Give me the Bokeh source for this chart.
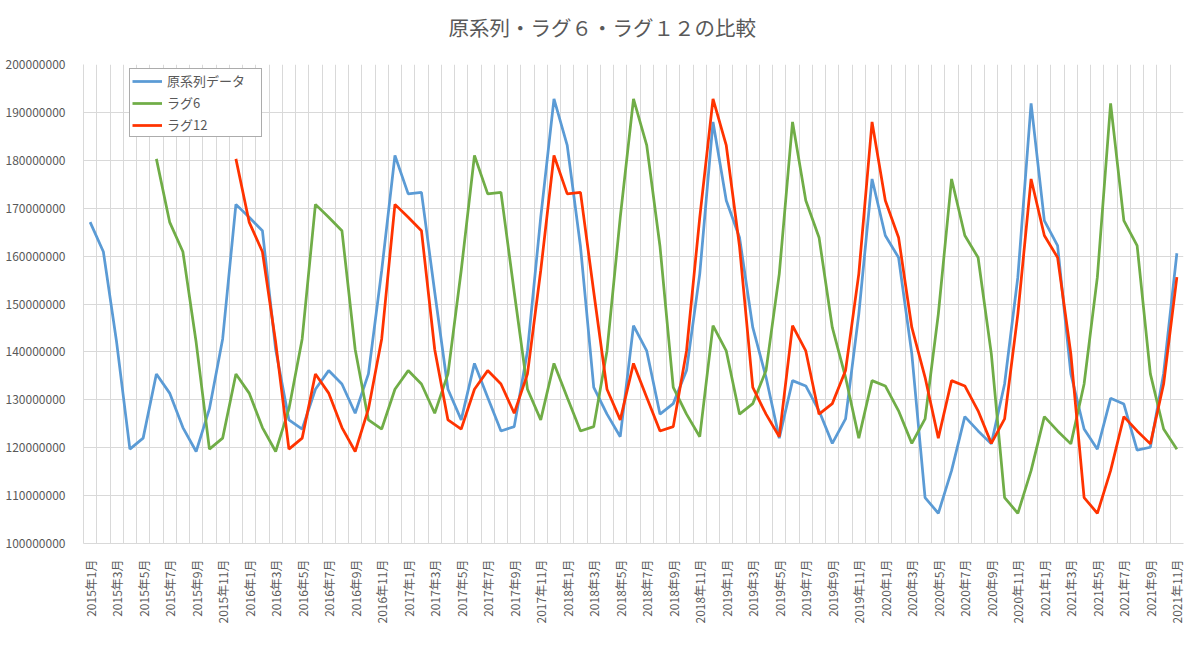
import numpy as np
from math import pi
from bokeh.plotting import figure
from bokeh.models import (ColumnDataSource, FixedTicker, BasicTickFormatter,
                          Legend, LegendItem, Range1d, Title)
from bokeh.embed import file_html
from bokeh.resources import INLINE

# ---------------- data ----------------
months = [f"{y}年{m}月" for y in range(2015, 2022) for m in range(1, 13)][:83]

# value of 2014年12月 (only visible in the lagged series)
prior_value = 180.3e6

original = [
    167.1e6, 160.9e6, 142.0e6, 119.7e6, 122.0e6, 135.4e6, 131.4e6, 124.2e6, 119.2e6, 128.1e6, 142.7e6, 170.8e6,
    168.1e6, 165.3e6, 140.5e6, 125.8e6, 123.9e6, 132.2e6, 136.1e6, 133.3e6, 127.2e6, 135.4e6, 157.0e6, 181.0e6,
    173.0e6, 173.3e6, 152.5e6, 132.2e6, 125.8e6, 137.6e6, 130.5e6, 123.5e6, 124.4e6, 140.2e6, 168.1e6, 192.8e6,
    183.1e6, 162.0e6, 132.6e6, 127.0e6, 122.3e6, 145.5e6, 140.2e6, 127.0e6, 129.2e6, 136.1e6, 156.3e6, 188.0e6,
    171.6e6, 163.9e6, 145.1e6, 134.7e6, 122.0e6, 134.0e6, 132.9e6, 127.7e6, 120.9e6, 126.0e6, 147.9e6, 176.1e6,
    164.3e6, 159.7e6, 139.6e6, 109.6e6, 106.3e6, 115.2e6, 126.5e6, 123.5e6, 120.8e6, 133.3e6, 155.6e6, 191.9e6,
    167.4e6, 162.2e6, 135.4e6, 123.9e6, 119.7e6, 130.3e6, 129.1e6, 119.5e6, 120.1e6, 135.5e6, 160.6e6,
]

nan = float("nan")
series_full = [prior_value] + original          # starts at 2014年12月
lag6 = [nan] * 5 + series_full[:len(original) - 5]
lag12 = [nan] * 11 + series_full[:len(original) - 11]

y_ticks = [100e6, 110e6, 120e6, 130e6, 140e6, 150e6, 160e6, 170e6, 180e6, 190e6, 200e6]

title_text = "原系列・ラグ６・ラグ１２の比較"
legend_labels = ["原系列データ", "ラグ6", "ラグ12"]
colors = ["#5B9BD5", "#70AD47", "#FF3300"]

# ---------------- figure ----------------
FONT = "Noto Sans CJK JP"
TXT = "#595959"
GRID = "#D9D9D9"

idx = list(range(len(months)))
src = ColumnDataSource(dict(x=idx, orig=original, lag6=np.array(lag6), lag12=np.array(lag12)))

p = figure(width=1184, height=646,
           x_range=Range1d(-0.5, len(months) - 0.5),
           y_range=Range1d(y_ticks[0], y_ticks[-1]),
           output_backend="svg", toolbar_location=None,
           min_border_left=83, min_border_right=1,
           min_border_top=64, min_border_bottom=103)

# spacer between frame and title (pushes the title upward)
p.add_layout(Title(text=" ", text_font_size="8px", standoff=12), "above")
p.add_layout(Title(text=title_text, align="left", offset=365, vertical_align="bottom",
                   text_font=FONT, text_font_size="20.5px", text_font_style="normal",
                   text_color=TXT, standoff=0), "above")

p.outline_line_color = None
p.background_fill_color = "white"
p.border_fill_color = "white"

# y axis
p.yaxis.ticker = FixedTicker(ticks=y_ticks)
p.yaxis.formatter = BasicTickFormatter(use_scientific=False)
p.yaxis.major_label_text_font = FONT
p.yaxis.major_label_text_font_size = "12px"
p.yaxis.major_label_text_color = TXT
p.yaxis.major_label_standoff = 12
p.yaxis.major_tick_line_color = None
p.yaxis.minor_tick_line_color = None
p.yaxis.axis_line_color = GRID

# x axis: every second month labelled
label_pos = idx[::2]
p.xaxis.ticker = FixedTicker(ticks=label_pos)
p.xaxis.major_label_overrides = {i: months[i] for i in label_pos}
p.xaxis.major_label_orientation = pi / 2
p.xaxis.major_label_text_font = FONT
p.xaxis.major_label_text_font_size = "12px"
p.xaxis.major_label_text_color = TXT
p.xaxis.major_label_standoff = 10
p.xaxis.major_tick_line_color = None
p.xaxis.minor_tick_line_color = None
p.xaxis.axis_line_color = GRID

# grids: horizontal every 10M, vertical at every month boundary
p.ygrid.ticker = FixedTicker(ticks=y_ticks)
p.ygrid.grid_line_color = GRID
p.ygrid.grid_line_width = 1
p.xgrid.ticker = FixedTicker(ticks=[i - 0.5 for i in range(len(months) + 1)])
p.xgrid.grid_line_color = GRID
p.xgrid.grid_line_width = 1

r_orig = p.line("x", "orig", source=src, line_color=colors[0], line_width=2.75)
r_lag6 = p.line("x", "lag6", source=src, line_color=colors[1], line_width=2.75)
r_lag12 = p.line("x", "lag12", source=src, line_color=colors[2], line_width=2.75)

legend = Legend(items=[LegendItem(label=legend_labels[0], renderers=[r_orig]),
                       LegendItem(label=legend_labels[1], renderers=[r_lag6]),
                       LegendItem(label=legend_labels[2], renderers=[r_lag12])],
                location=(46, 406))
legend.label_text_font = FONT
legend.label_text_font_size = "13px"
legend.label_text_color = TXT
legend.glyph_width = 30
legend.glyph_height = 16
legend.label_height = 16
legend.label_width = 92
legend.label_standoff = 5
legend.spacing = 3
legend.padding = 2
legend.margin = 0
legend.border_line_color = "#595959"
legend.border_line_width = 1
legend.background_fill_color = "white"
legend.background_fill_alpha = 1
p.add_layout(legend)

open("out.html", "w").write(file_html(p, INLINE))
